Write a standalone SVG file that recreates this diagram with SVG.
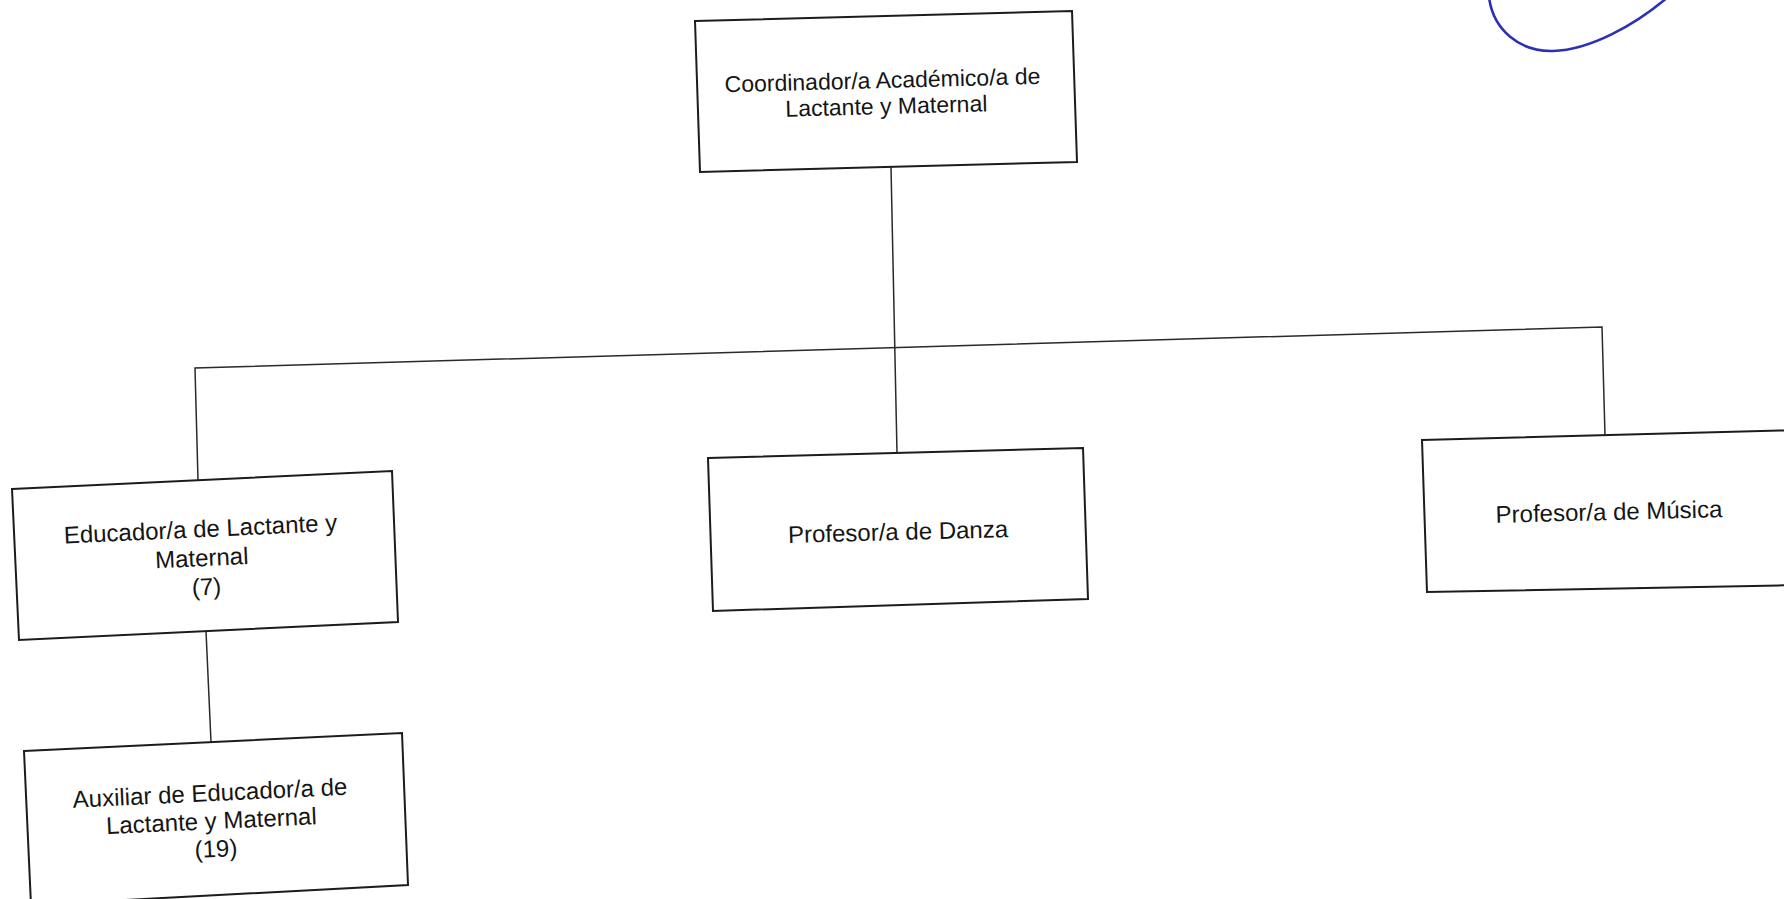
<svg xmlns="http://www.w3.org/2000/svg" width="1784" height="899" viewBox="0 0 1784 899">
  <style>
    .box { fill: #ffffff; stroke: #1c1c1c; stroke-width: 2; stroke-linejoin: miter; }
    .conn { fill: none; stroke: #2a2a2a; stroke-width: 1.5; }
    .lbl { font-family: "Liberation Sans", Arial, sans-serif; font-size: 24px; fill: #151515; text-anchor: middle; }
    .top { font-size: 23px; }
    .ink { fill: none; stroke: #2b31b3; stroke-width: 2.6; stroke-linecap: round; }
  </style>
  <rect x="0" y="0" width="1784" height="899" fill="#ffffff"/>

  <g id="connectors">
    <path class="conn" d="M891,167 L897,453"/>
    <path class="conn" d="M198,480 L195,368 L1602,327 L1605,435"/>
    <path class="conn" d="M206,631 L211,742"/>
  </g>

  <g id="node-coordinador">
    <polygon class="box" points="695,21 1072,11 1077,162 700,172"/>
    <text class="lbl top" transform="rotate(-1.5 886 92)">
      <tspan x="886" y="88">Coordinador/a Académico/a de</tspan>
      <tspan x="886" y="114">Lactante y Maternal</tspan>
    </text>
  </g>

  <g id="node-educador">
    <polygon class="box" points="12,489 392,471 398,622 19,640"/>
    <text class="lbl" transform="rotate(-2.7 205 556)">
      <tspan x="205" y="537">Educador/a de Lactante y</tspan>
      <tspan x="205" y="566">Maternal</tspan>
      <tspan x="205" y="595">(7)</tspan>
    </text>
  </g>

  <g id="node-danza">
    <polygon class="box" points="708,458 1083,448 1088,599 713,611"/>
    <text class="lbl" transform="rotate(-1.5 898 530)">
      <tspan x="898" y="540">Profesor/a de Danza</tspan>
    </text>
  </g>

  <g id="node-musica">
    <polygon class="box" points="1422,440 1800,430 1800,585 1427,592"/>
    <text class="lbl" transform="rotate(-1.4 1609 512)">
      <tspan x="1609" y="520">Profesor/a de Música</tspan>
    </text>
  </g>

  <g id="node-auxiliar">
    <polygon class="box" points="24,751 402,733 408,885 31,905"/>
    <text class="lbl" transform="rotate(-2.7 215 828)">
      <tspan x="215" y="801">Auxiliar de Educador/a de</tspan>
      <tspan x="215" y="829">Lactante y Maternal</tspan>
      <tspan x="215" y="857">(19)</tspan>
    </text>
  </g>

  <path class="ink" d="M1489,-3 C1493,30 1520,52 1553,51 C1590,50 1635,25 1668,-3"/>
</svg>
